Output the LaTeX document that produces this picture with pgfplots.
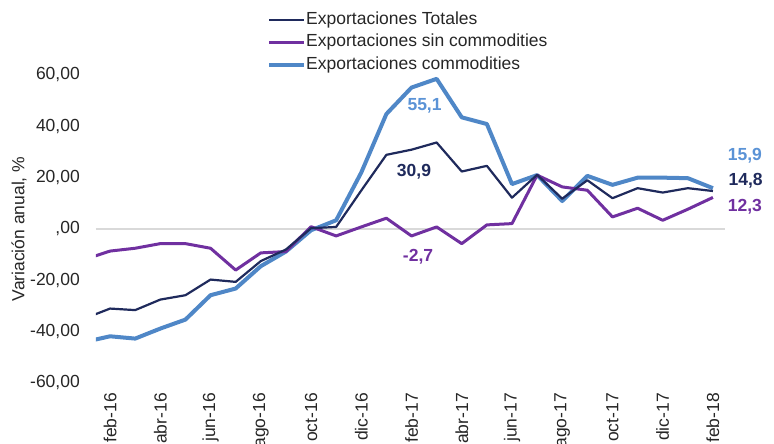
\documentclass[border=0pt]{standalone}
\usepackage{fontspec}
\setmainfont{Liberation Sans}
\usepackage{pgfplots}
\usepackage{pgfplotstable}
\pgfplotsset{compat=1.18}
\definecolor{cnavy}{RGB}{31,42,92}
\definecolor{cpurple}{RGB}{112,48,160}
\definecolor{cblue}{RGB}{79,135,199}
\definecolor{cbluelab}{RGB}{91,147,214}
\definecolor{cgrid}{RGB}{217,217,217}
\definecolor{ctext}{RGB}{38,38,38}

% index 0 = ene-16 ... 25 = feb-18
\pgfplotstableread{
x tot sin com
0  -34.8 -11.8 -44.0
1  -31.0  -8.6 -41.8
2  -31.6  -7.5 -42.7
3  -27.5  -5.7 -38.8
4  -25.8  -5.7 -35.3
5  -19.7  -7.5 -25.8
6  -20.6 -16.0 -23.2
7  -12.5  -9.3 -14.5
8   -8.0  -8.8  -8.8
9    0.3   0.9  -0.5
10   0.8  -2.7   3.4
11  15.0   0.8  22.0
12  28.9   4.2  44.8
13  30.9  -2.7  55.1
14  33.7   0.8  58.5
15  22.4  -5.7  43.5
16  24.6   1.6  40.9
17  12.2   2.1  17.5
18  21.1  21.0  21.0
19  11.8  16.4  10.9
20  19.0  15.1  20.7
21  12.0   4.7  17.2
22  15.9   8.1  20.0
23  14.2   3.4  20.0
24  15.9   7.7  19.8
25  14.8  12.3  15.9
}\datatable

\begin{document}
\begin{tikzpicture}
\begin{axis}[
  at={(0pt,0pt)}, anchor=south west,
  scale only axis, width=629pt, height=308pt,
  xmin=0.44, xmax=25.48, ymin=-60, ymax=60,
  clip mode=individual,
  axis line style={draw=none},
  tick style={draw=none},
  xtick={1,3,...,25},
  xticklabels={feb-16,abr-16,jun-16,ago-16,oct-16,dic-16,feb-17,abr-17,jun-17,ago-17,oct-17,dic-17,feb-18},
  ytick={-60,-40,...,60},
  yticklabels={{-60,00},{-40,00},{-20,00},{,00},{20,00},{40,00},{60,00}},
  ticklabel style={font=\fontsize{17.5}{20}\selectfont, text=ctext, inner sep=0pt},
  xticklabel style={rotate=90, anchor=east},
  yticklabel style={anchor=east},
  xticklabel shift=10pt,
  yticklabel shift=16pt,
  ylabel={Variación anual, \%},
  every axis y label/.style={at={([xshift=-77pt]axis description cs:0,0.5)}, rotate=90, anchor=center, font=\fontsize{17.5}{20}\selectfont, text=ctext},
  reverse legend,
  legend style={at={(axis description cs:0.2719,1.208)}, anchor=north west, draw=none, fill=none, inner sep=0pt, row sep=5.5pt,
    font=\fontsize{17.5}{20}\selectfont, text=ctext,
    nodes={inner sep=0pt, text height=13pt, text depth=4pt},
    /tikz/every even column/.append style={column sep=3pt}},
  legend cell align=left,
  legend image code/.code={\draw[#1, line cap=butt] (0pt,0pt) -- (35pt,0pt);},
]
\draw[cgrid, line width=2pt] (axis cs:0.44,0) -- (axis cs:25.48,0);
\addplot[cblue, line width=4pt, line join=round] table[x=x, y=com] {\datatable};
\addlegendentry{Exportaciones commodities}
\addplot[cpurple, line width=3pt, line join=round] table[x=x, y=sin] {\datatable};
\addlegendentry{Exportaciones sin commodities}
\addplot[cnavy, line width=2.2pt, line join=round] table[x=x, y=tot] {\datatable};
\addlegendentry{Exportaciones Totales}

\node[text=cbluelab, font=\fontsize{17.5}{20}\selectfont\bfseries] at (axis cs:13.52,47.9) {55,1};
\node[text=cnavy, font=\fontsize{17.5}{20}\selectfont\bfseries] at (axis cs:13.1,22.2) {30,9};
\node[text=cpurple, font=\fontsize{17.5}{20}\selectfont\bfseries] at (axis cs:13.26,-10.9) {-2,7};
\node[text=cbluelab, font=\fontsize{17.5}{20}\selectfont\bfseries] at (axis cs:26.27,28.4) {15,9};
\node[text=cnavy, font=\fontsize{17.5}{20}\selectfont\bfseries] at (axis cs:26.3,18.7) {14,8};
\node[text=cpurple, font=\fontsize{17.5}{20}\selectfont\bfseries] at (axis cs:26.27,8.6) {12,3};
\end{axis}
\pgfresetboundingbox
\path[use as bounding box] (-96pt,-61pt) rectangle (678pt,383pt);
\end{tikzpicture}
\end{document}
